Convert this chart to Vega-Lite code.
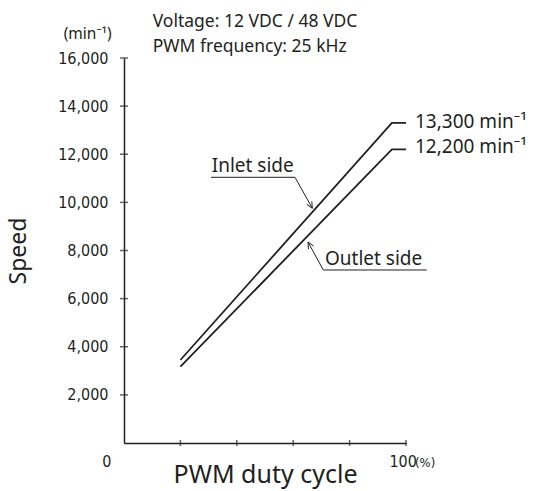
{
  "$schema": "https://vega.github.io/schema/vega-lite/v6.json",
  "width": 282,
  "height": 385,
  "autosize": "none",
  "padding": {"left": 124, "top": 58, "right": 128, "bottom": 48},
  "background": "white",
  "config": {"view": {"stroke": null}, "font": "Noto Sans"},
  "datasets": {
    "curves": [
      {"series": "Inlet side", "duty": 20, "speed": 3450, "o": 1},
      {"series": "Inlet side", "duty": 95, "speed": 13300, "o": 2},
      {"series": "Inlet side", "duty": 100, "speed": 13300, "o": 3},
      {"series": "Outlet side", "duty": 20, "speed": 3170, "o": 1},
      {"series": "Outlet side", "duty": 95, "speed": 12200, "o": 2},
      {"series": "Outlet side", "duty": 100, "speed": 12200, "o": 3}
    ],
    "leaders": [
      {"g": "inletLeader", "duty": 30.85, "speed": 11042, "o": 1},
      {"g": "inletLeader", "duty": 60.64, "speed": 11042, "o": 2},
      {"g": "inletLeader", "duty": 66.77, "speed": 9754, "o": 3},
      {"g": "inletArrow", "duty": 66.6, "speed": 10045, "o": 1},
      {"g": "inletArrow", "duty": 66.77, "speed": 9754, "o": 2},
      {"g": "inletArrow", "duty": 64.75, "speed": 9924, "o": 3},
      {"g": "outletLeader", "duty": 107.34, "speed": 7190, "o": 1},
      {"g": "outletLeader", "duty": 70.67, "speed": 7190, "o": 2},
      {"g": "outletLeader", "duty": 65.25, "speed": 8353, "o": 3},
      {"g": "outletArrow", "duty": 65.41, "speed": 8062, "o": 1},
      {"g": "outletArrow", "duty": 65.25, "speed": 8353, "o": 2},
      {"g": "outletArrow", "duty": 67.25, "speed": 8183, "o": 3}
    ],
    "ytick": [
      {"duty": 0, "speed": 2000}, {"duty": 0, "speed": 4000}, {"duty": 0, "speed": 6000},
      {"duty": 0, "speed": 8000}, {"duty": 0, "speed": 10000}, {"duty": 0, "speed": 12000},
      {"duty": 0, "speed": 14000}, {"duty": 0, "speed": 16000}
    ],
    "xtick": [
      {"duty": 20, "speed": 0}, {"duty": 40, "speed": 0}, {"duty": 60, "speed": 0},
      {"duty": 80, "speed": 0}, {"duty": 100, "speed": 0}
    ],
    "labels": [
      {"text": "Inlet side", "duty": 31.1, "speed": 11275},
      {"text": "Outlet side", "duty": 71.28, "speed": 7397},
      {"text": "13,300 min⁻¹", "duty": 103.19, "speed": 13078},
      {"text": "12,200 min⁻¹", "duty": 103.19, "speed": 12039}
    ],
    "header": [
      {"text": "Voltage: 12 VDC / 48 VDC", "duty": 10.18, "speed": 17301},
      {"text": "PWM frequency: 25 kHz", "duty": 10.18, "speed": 16237}
    ],
    "axisNotes": [
      {"text": "0", "duty": -6.13, "speed": -997, "size": 16, "align": "center"},
      {"text": "100", "duty": 99.0, "speed": -997, "size": 16, "align": "center"},
      {"text": "(%)", "duty": 106.8, "speed": -997, "size": 13, "align": "left"}
    ]
  },
  "layer": [
    {
      "data": {"name": "curves"},
      "mark": {"type": "line", "color": "#231f20", "strokeWidth": 1.8},
      "encoding": {
        "x": {
          "field": "duty", "type": "quantitative",
          "scale": {"domain": [0, 100], "nice": false, "zero": true},
          "axis": {
            "labels": false, "ticks": false, "grid": false,
            "domainColor": "#231f20", "domainWidth": 1.5,
            "title": "PWM duty cycle", "titleFont": "Noto Sans", "titleFontSize": 25,
            "titleFontWeight": "normal", "titleColor": "#231f20", "titlePadding": 19
          }
        },
        "y": {
          "field": "speed", "type": "quantitative",
          "scale": {"domain": [0, 16000], "nice": false},
          "axis": {
            "values": [2000, 4000, 6000, 8000, 10000, 12000, 14000, 16000],
            "format": ",d", "ticks": false, "tickSize": 0, "grid": false,
            "labelFont": "DejaVu Sans Condensed, Liberation Sans, sans-serif", "labelFontSize": 16, "labelColor": "#231f20",
            "labelPadding": 16,
            "domainColor": "#231f20", "domainWidth": 1.5,
            "title": "Speed", "titleFont": "Noto Sans", "titleFontSize": 23,
            "titleFontWeight": "normal", "titleColor": "#231f20", "titlePadding": 27
          }
        },
        "detail": {"field": "series"},
        "order": {"field": "o"}
      }
    },
    {
      "data": {"name": "leaders"},
      "mark": {"type": "line", "color": "#231f20", "strokeWidth": 1},
      "encoding": {
        "x": {"field": "duty", "type": "quantitative"},
        "y": {"field": "speed", "type": "quantitative"},
        "detail": {"field": "g"},
        "order": {"field": "o"}
      }
    },
    {
      "data": {"name": "ytick"},
      "mark": {"type": "tick", "orient": "horizontal", "color": "#231f20", "size": 8, "thickness": 1.5},
      "encoding": {
        "x": {"field": "duty", "type": "quantitative"},
        "y": {"field": "speed", "type": "quantitative"}
      }
    },
    {
      "data": {"name": "xtick"},
      "mark": {"type": "tick", "orient": "vertical", "color": "#231f20", "size": 6, "thickness": 1.5},
      "encoding": {
        "x": {"field": "duty", "type": "quantitative"},
        "y": {"field": "speed", "type": "quantitative"}
      }
    },
    {
      "data": {"name": "labels"},
      "mark": {"type": "text", "align": "left", "baseline": "alphabetic", "fontSize": 19, "color": "#231f20", "font": "Noto Sans"},
      "encoding": {
        "x": {"field": "duty", "type": "quantitative"},
        "y": {"field": "speed", "type": "quantitative"},
        "text": {"field": "text"}
      }
    },
    {
      "data": {"name": "header"},
      "mark": {"type": "text", "align": "left", "baseline": "alphabetic", "fontSize": 17.5, "color": "#231f20", "font": "Noto Sans"},
      "encoding": {
        "x": {"field": "duty", "type": "quantitative"},
        "y": {"field": "speed", "type": "quantitative"},
        "text": {"field": "text"}
      }
    },
    {
      "data": {"values": [{"text": "(min⁻¹)", "duty": -4.36, "speed": 16789}]},
      "mark": {"type": "text", "align": "right", "baseline": "alphabetic", "fontSize": 15.5, "color": "#231f20", "font": "Noto Sans"},
      "encoding": {
        "x": {"field": "duty", "type": "quantitative"},
        "y": {"field": "speed", "type": "quantitative"},
        "text": {"field": "text"}
      }
    },
    {
      "data": {"name": "axisNotes"},
      "mark": {"type": "text", "baseline": "alphabetic", "color": "#231f20", "font": "DejaVu Sans Condensed, Liberation Sans, sans-serif"},
      "encoding": {
        "x": {"field": "duty", "type": "quantitative"},
        "y": {"field": "speed", "type": "quantitative"},
        "text": {"field": "text"},
        "size": {"field": "size", "type": "quantitative", "scale": null},
        "align": {"field": "align", "type": "nominal", "scale": null}
      }
    }
  ]
}
